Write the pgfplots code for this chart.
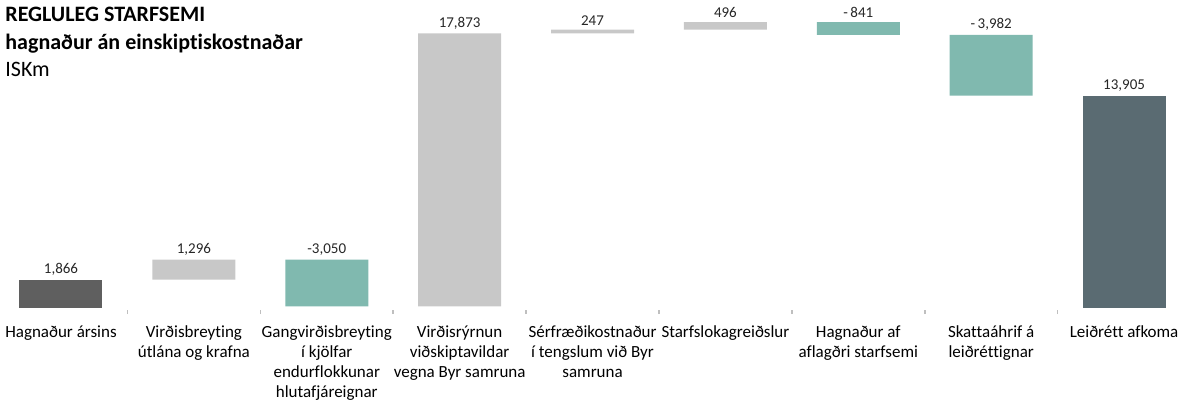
\documentclass[border=0pt]{standalone}
\usepackage{pgfplots}
\usepackage{pgfplotstable}
\pgfplotsset{compat=1.18}
\usepackage{fontspec}
\setmainfont{Carlito}[Ligatures=NoCommon]
\definecolor{darkbar}{HTML}{5F5F5F}
\definecolor{lightbar}{HTML}{C8C8C8}
\definecolor{tealbar}{HTML}{80B9AF}
\definecolor{slatebar}{HTML}{5A6B72}
\definecolor{labcol}{HTML}{262626}
\definecolor{tickcol}{HTML}{BFBFBF}

\pgfplotstableread{
x base dark light teal slate
0 0 1866 0 0 0
1 1866 0 1296 0 0
2 112 0 0 3050 0
3 112 0 17873 0 0
4 17985 0 247 0 0
5 18232 0 496 0 0
6 17887 0 0 841 0
7 13905 0 0 3982 0
8 0 0 0 0 13905
}\data

\pgfplotstableread{
x top lab
0 1866 {1,866}
1 3162 {1,296}
2 3162 {-3,050}
3 17985 {17,873}
4 18232 {247}
5 18728 {496}
6 18728 {-\,841}
7 17887 {-\,3,982}
8 13905 {13,905}
}\labels

\begin{document}
\begin{tikzpicture}
\begin{axis}[
  ybar stacked,
  bar width=41.5pt,
  scale only axis,
  width=593pt, height=154pt,
  xmin=-0.459, xmax=8.466,
  ymin=0, ymax=20170,
  axis line style={draw=none},
  ytick=\empty,
  xtick={0,...,8},
  xticklabels={
    {Hagnaður ársins},
    {Virðisbreyting\\útlána og krafna},
    {Gangvirðisbreyting\\í kjölfar\\endurflokkunar\\hlutafjáreignar},
    {Virðisrýrnun\\viðskiptavildar\\vegna Byr samruna},
    {Sérfræðikostnaður\\í tengslum við Byr\\samruna},
    {Starfslokagreiðslur},
    {Hagnaður af\\aflagðri starfsemi},
    {Skattaáhrif á\\leiðréttignar},
    {Leiðrétt afkoma}},
  xticklabel style={font=\fontsize{8.5}{10}\selectfont, align=center, text=black, yshift=-5.5pt},
  major tick length=0pt,
  minor xtick={0.5,1.5,...,7.5},
  minor tick length=2pt,
  minor tick style={draw=tickcol, line width=0.8pt, yshift=-1pt},
  xtick pos=bottom,
  tick align=outside,
]
\addplot[draw=none, fill=none] table[x=x, y=base] \data;
\addplot[draw=none, fill=darkbar] table[x=x, y=dark] \data;
\addplot[draw=none, fill=lightbar] table[x=x, y=light] \data;
\addplot[draw=none, fill=tealbar] table[x=x, y=teal] \data;
\addplot[draw=none, fill=slatebar] table[x=x, y=slate] \data;
\node[anchor=base west, inner sep=0, font=\fontsize{11}{13}\selectfont\bfseries] at ([xshift=2.5pt, yshift=-10.5pt]rel axis cs:0,1) {REGLULEG STARFSEMI};
\node[anchor=base west, inner sep=0, font=\fontsize{11}{13}\selectfont\bfseries] at ([xshift=2.5pt, yshift=-24.5pt]rel axis cs:0,1) {hagnaður án einskiptiskostnaðar};
\node[anchor=base west, inner sep=0, font=\fontsize{11}{13}\selectfont] at ([xshift=2.5pt, yshift=-38pt]rel axis cs:0,1) {ISKm};
\end{axis}
\begin{axis}[
  scale only axis,
  width=593pt, height=154pt,
  xmin=-0.459, xmax=8.466,
  ymin=0, ymax=20170,
  hide axis,
]
\addplot[draw=none, mark=none, nodes near coords, point meta=explicit symbolic,
  nodes near coords style={font=\fontsize{7.5}{9}\selectfont, text=labcol, anchor=south, inner sep=2pt}]
  table[x=x, y=top, meta=lab] \labels;
\end{axis}
\pgfresetboundingbox
\path ([yshift=-47.5pt]current axis.south west) rectangle (current axis.north east);
\end{tikzpicture}
\end{document}
